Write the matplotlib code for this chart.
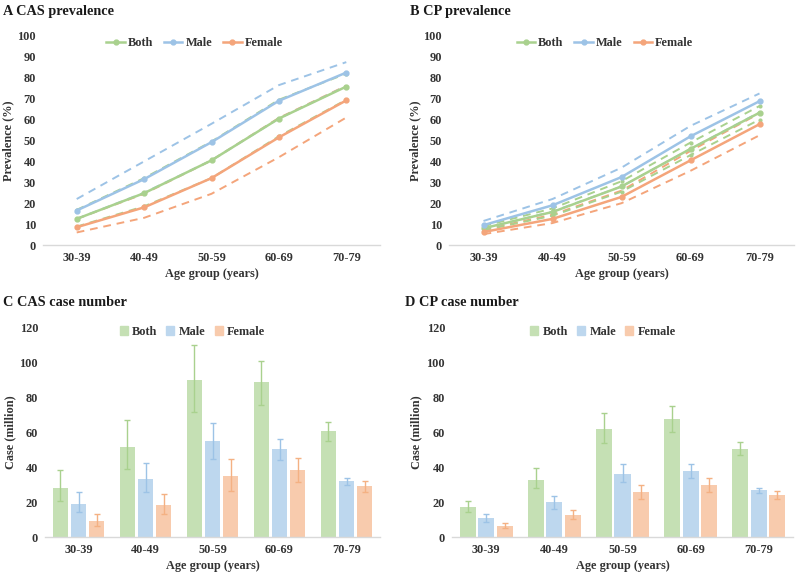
import matplotlib
matplotlib.use("Agg")
import matplotlib.pyplot as plt
import numpy as np
from matplotlib.lines import Line2D
from matplotlib.patches import Patch

ages = ["30-39", "40-49", "50-59", "60-69", "70-79"]
series = ["Both", "Male", "Female"]

# A: CAS prevalence (%)
cas_prev = {
    "Both":   [12.5, 24.8, 40.5, 60.5, 75.8],
    "Male":   [16.5, 31.5, 49.2, 69.0, 82.5],
    "Female": [8.5, 18.0, 32.0, 51.5, 69.2],
}
cas_prev_lo = {
    "Both":   [8.8, 18.5, 32.0, 52.0, 69.5],
    "Male":   [12.5, 25.0, 40.5, 60.5, 76.0],
    "Female": [6.0, 13.0, 24.5, 42.0, 61.0],
}
cas_prev_hi = {
    "Both":   [16.8, 32.0, 49.5, 69.5, 82.0],
    "Male":   [22.0, 40.0, 58.0, 76.5, 87.5],
    "Female": [12.5, 24.5, 40.5, 60.8, 76.2],
}

# B: CP prevalence (%)
cp_prev = {
    "Both":   [8.0, 15.8, 28.0, 46.0, 63.3],
    "Male":   [9.5, 19.0, 32.5, 52.0, 68.8],
    "Female": [6.2, 12.5, 23.0, 40.5, 57.8],
}
cp_prev_lo = {
    "Both":   [7.0, 14.0, 25.5, 43.0, 60.0],
    "Male":   [7.8, 16.0, 28.0, 46.0, 63.5],
    "Female": [5.2, 10.5, 20.0, 35.5, 52.5],
}
cp_prev_hi = {
    "Both":   [9.0, 17.5, 30.5, 49.0, 66.5],
    "Male":   [11.5, 22.0, 37.0, 57.0, 72.5],
    "Female": [7.3, 14.5, 26.0, 45.0, 63.0],
}

# C: CAS case number (million)
cas_case = {
    "Both":   [28.1, 51.7, 90.3, 88.8, 61.0],
    "Male":   [18.8, 33.3, 55.1, 50.5, 32.0],
    "Female": [9.4, 18.2, 34.8, 38.5, 29.1],
}
cas_case_lo = {
    "Both":   [20.5, 39.0, 71.6, 76.0, 55.1],
    "Male":   [14.2, 25.6, 44.8, 44.4, 30.0],
    "Female": [6.5, 13.2, 26.6, 31.6, 25.8],
}
cas_case_hi = {
    "Both":   [38.5, 67.0, 110.0, 101.0, 65.8],
    "Male":   [25.8, 42.5, 65.5, 56.0, 33.9],
    "Female": [13.2, 24.7, 44.6, 45.4, 32.2],
}

# D: CP case number (million)
cp_case = {
    "Both":   [17.3, 33.0, 62.0, 67.6, 50.7],
    "Male":   [10.8, 20.2, 36.3, 37.8, 26.7],
    "Female": [6.5, 12.9, 25.7, 29.8, 24.2],
}
cp_case_lo = {
    "Both":   [14.4, 28.2, 53.8, 60.5, 47.2],
    "Male":   [8.6, 16.3, 31.3, 34.0, 25.0],
    "Female": [5.2, 10.6, 21.7, 25.9, 21.7],
}
cp_case_hi = {
    "Both":   [20.9, 39.4, 71.2, 75.1, 54.3],
    "Male":   [13.1, 23.8, 41.7, 41.7, 28.4],
    "Female": [8.1, 15.4, 29.6, 33.6, 26.5],
}

line_colors = {"Both": "#a9d18e", "Male": "#9dc3e6", "Female": "#f4a57b"}
bar_colors = {"Both": "#c5e0b4", "Male": "#bdd7ee", "Female": "#f8cbad"}
err_colors = {"Both": "#a9d18e", "Male": "#9dc3e6", "Female": "#f4b183"}

FONT = ["Liberation Serif", "DejaVu Serif"]
plt.rcParams["font.family"] = FONT
plt.rcParams["font.weight"] = "bold"

TXT = "#333333"
FS = 8.8

fig = plt.figure(figsize=(8, 5.72), dpi=100)
W, H = 800, 572

def add_ax(x0, x1, ytop, ybot):
    return fig.add_axes([x0 / W, 1 - ybot / H, (x1 - x0) / W, (ybot - ytop) / H])

def style(ax, ymax, step, ylabel, ylab_x):
    ax.set_xlim(-0.5, 4.5)
    ax.set_ylim(0, ymax)
    ax.set_yticks(np.arange(0, ymax + 1, step))
    ax.set_xticks(range(len(ages)))
    ax.set_xticklabels(ages)
    for s in ["top", "right", "left"]:
        ax.spines[s].set_visible(False)
    ax.spines["bottom"].set_color("#d9d9d9")
    ax.spines["bottom"].set_linewidth(1)
    ax.tick_params(axis="y", length=0, labelsize=FS, colors=TXT, pad=5)
    ax.tick_params(axis="x", length=0, labelsize=FS, colors=TXT, pad=5)
    for t in ax.get_xticklabels() + ax.get_yticklabels():
        t.set_fontweight("bold")
    ax.set_xlabel("Age group (years)", fontsize=FS, fontweight="bold", color=TXT)
    ax.xaxis.set_label_coords(0.5, -0.112)
    ax.set_ylabel(ylabel, fontsize=FS, fontweight="bold", color=TXT)
    ax.yaxis.set_label_coords(ylab_x, 0.5)

def line_panel(ax, mean, lo, hi, legx, ylab_x):
    x = np.arange(len(ages))
    for s in ["Female", "Male", "Both"]:
        for arr in (lo, hi):
            ax.plot(x, arr[s], color=line_colors[s], ls=(0, (4, 3)), lw=1.4,
                    marker="o", ms=2 if s == "Both" else 0, zorder=2)
    for s in series:
        ax.plot(x, mean[s], color=line_colors[s], lw=1.8, marker="o", ms=3.5, zorder=3)
    handles = [Line2D([0], [0], color=line_colors[s], lw=1.8, marker="o", ms=3.5) for s in series]
    leg = ax.legend(handles, series, loc="center", bbox_to_anchor=(legx, 0.967), ncol=3,
                    frameon=False, fontsize=FS, handlelength=1.5, columnspacing=0.9,
                    handletextpad=0.25, borderpad=0)
    for t in leg.get_texts():
        t.set_color(TXT)
    style(ax, 100, 10, "Prevalence (%)", ylab_x)

def bar_panel(ax, mean, lo, hi, legx, ylab_x):
    x = np.arange(len(ages))
    offs = {"Both": -0.27, "Male": 0.0, "Female": 0.27}
    for s in series:
        m = np.array(mean[s]); l = np.array(lo[s]); h = np.array(hi[s])
        ax.bar(x + offs[s], m, width=0.235, color=bar_colors[s], zorder=2)
        ax.errorbar(x + offs[s], m, yerr=[m - l, h - m], fmt="none", ecolor=err_colors[s],
                    elinewidth=1, capsize=2, capthick=1, zorder=3)
    handles = [Patch(color=bar_colors[s]) for s in series]
    leg = ax.legend(handles, series, loc="center", bbox_to_anchor=(legx, 0.982), ncol=3,
                    frameon=False, fontsize=FS, handlelength=0.65, handleheight=0.65,
                    columnspacing=0.75, handletextpad=0.35, borderpad=0)
    for t in leg.get_texts():
        t.set_color(TXT)
    style(ax, 120, 20, "Case (million)", ylab_x)

axA = add_ax(43, 380, 36, 245)
axB = add_ax(449, 794, 36, 245)
axC = add_ax(45, 380, 328, 537)
axD = add_ax(452, 793, 328, 537)

line_panel(axA, cas_prev, cas_prev_lo, cas_prev_hi, 0.45, -0.085)
line_panel(axB, cp_prev, cp_prev_lo, cp_prev_hi, 0.452, -0.080)
bar_panel(axC, cas_case, cas_case_lo, cas_case_hi, 0.44, -0.085)
bar_panel(axD, cp_case, cp_case_lo, cp_case_hi, 0.443, -0.087)

titles = [("A CAS prevalence", 3, 11), ("B CP prevalence", 410, 11),
          ("C CAS case number", 3, 303), ("D CP case number", 405, 303)]
for txt, px, py in titles:
    fig.text(px / W, 1 - py / H, txt, fontsize=10.3, fontweight="bold", color="#1a1a1a",
             ha="left", va="center")

fig.savefig("out.png", dpi=100, facecolor="white")
